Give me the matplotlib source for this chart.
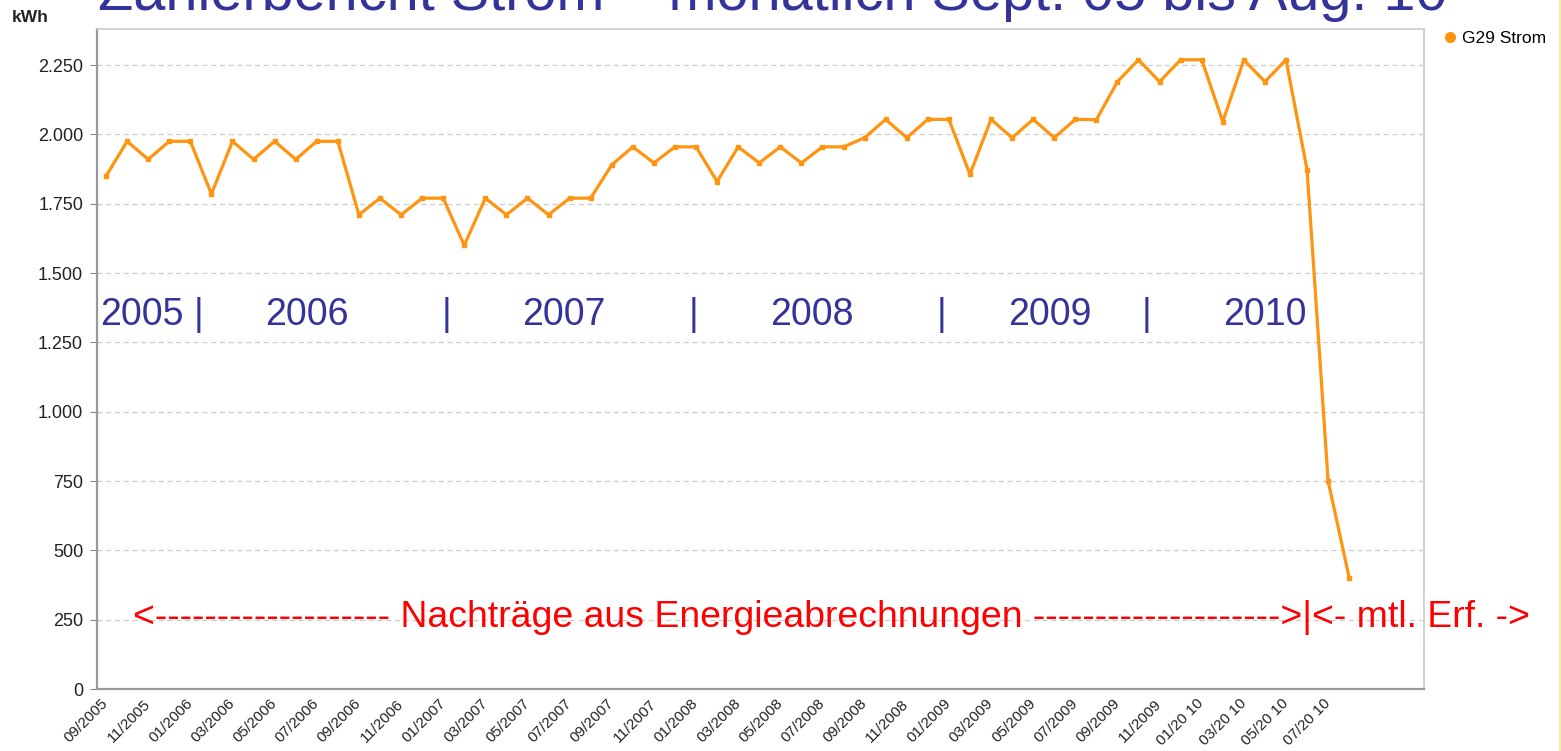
import matplotlib
matplotlib.use("Agg")
import matplotlib.pyplot as plt
from matplotlib.ticker import FuncFormatter, FixedLocator
from matplotlib.lines import Line2D

plt.rcParams['font.family'] = ['Liberation Sans', 'DejaVu Sans']

# ---- data ----
months = ["09/2005", "10/2005", "11/2005", "12/2005",
          "01/2006", "02/2006", "03/2006", "04/2006", "05/2006", "06/2006",
          "07/2006", "08/2006", "09/2006", "10/2006", "11/2006", "12/2006",
          "01/2007", "02/2007", "03/2007", "04/2007", "05/2007", "06/2007",
          "07/2007", "08/2007", "09/2007", "10/2007", "11/2007", "12/2007",
          "01/2008", "02/2008", "03/2008", "04/2008", "05/2008", "06/2008",
          "07/2008", "08/2008", "09/2008", "10/2008", "11/2008", "12/2008",
          "01/2009", "02/2009", "03/2009", "04/2009", "05/2009", "06/2009",
          "07/2009", "08/2009", "09/2009", "10/2009", "11/2009", "12/2009",
          "01/2010", "02/2010", "03/2010", "04/2010", "05/2010", "06/2010",
          "07/2010", "08/2010"]
strom_kwh = [1850, 1975, 1910, 1975,
             1975, 1785, 1975, 1910, 1975, 1910,
             1975, 1975, 1710, 1770, 1710, 1770,
             1770, 1600, 1770, 1710, 1770, 1710,
             1770, 1770, 1890, 1955, 1897, 1955,
             1955, 1830, 1955, 1897, 1955, 1897,
             1955, 1955, 1988, 2054, 1988, 2054,
             2054, 1856, 2054, 1988, 2054, 1988,
             2054, 2053, 2190, 2269, 2190, 2269,
             2269, 2046, 2269, 2190, 2269, 1873,
             750, 401]
series_name = "G29 Strom"
y_ticks = [0, 250, 500, 750, 1000, 1250, 1500, 1750, 2000, 2250]
x_tick_labels = ["09/2005", "11/2005", "01/2006", "03/2006", "05/2006", "07/2006",
                 "09/2006", "11/2006", "01/2007", "03/2007", "05/2007", "07/2007",
                 "09/2007", "11/2007", "01/2008", "03/2008", "05/2008", "07/2008",
                 "09/2008", "11/2008", "01/2009", "03/2009", "05/2009", "07/2009",
                 "09/2009", "11/2009", "01/20 10", "03/20 10", "05/20 10", "07/20 10"]
title_text = "Zählerbericht Strom – monatlich Sept. 05 bis Aug. 10"
year_labels = ["2005", "|", "2006", "|", "2007", "|", "2008", "|", "2009", "|", "2010"]
year_label_px = [100, 194, 265, 442, 522, 689, 770, 937, 1008, 1142, 1223]
note_text = "<------------------- Nachträge aus Energieabrechnungen -------------------->|<- mtl. Erf. ->"

W, H = 1561, 751
fig = plt.figure(figsize=(W / 100, H / 100), dpi=100)
ax = fig.add_axes([97 / W, 1 - 689 / H, (1424 - 97) / W, (689 - 29) / H])

x = list(range(len(strom_kwh)))
orange = "#ff9410"
ax.plot(x, strom_kwh, color=orange, lw=2.3, marker="s", ms=3.2,
        markerfacecolor=orange, markeredgecolor=orange, zorder=3,
        label=series_name)

ax.set_xlim(-0.43, 62.55)
ax.set_ylim(0, 2380)

ax.yaxis.set_major_locator(FixedLocator(y_ticks))
ax.yaxis.set_major_formatter(FuncFormatter(lambda v, p: f"{int(v):,}".replace(",", ".")))
ax.grid(axis="y", color="#cccccc", linestyle=(0, (4, 3)), lw=0.9)
ax.set_axisbelow(True)

tick_pos = [months.index(l.replace(" ", "")) for l in x_tick_labels]
ax.set_xticks(tick_pos)
ax.set_xticklabels(x_tick_labels, rotation=45, ha="right", va="center",
                   rotation_mode="anchor", fontsize=11, color="#222222")
ax.tick_params(axis="x", length=0, pad=9)
ax.tick_params(axis="y", length=5, color="#888888", labelsize=13,
               labelcolor="#222222", pad=5)

for s in ["left", "bottom"]:
    ax.spines[s].set_color("#999999")
    ax.spines[s].set_linewidth(1.6)
for s in ["top", "right"]:
    ax.spines[s].set_color("#cccccc")
    ax.spines[s].set_linewidth(1.2)

# axis unit label
fig.text(12 / W, 1 - 22 / H, "kWh", fontsize=12.5, fontweight="bold",
         color="#222222", va="baseline")

# legend
ax.legend(handles=[Line2D([], [], color=orange, marker="o", ls="", ms=7)],
          labels=[series_name], loc="upper left", bbox_to_anchor=(1.014, 1.0),
          frameon=False, fontsize=12.5, handlelength=0.6, handletextpad=0.4,
          borderaxespad=0.0, borderpad=0.1)

# title (clipped at top like the reference)
fig.text(98 / W, 1 - 10 / H, title_text, fontsize=41.5, color="#333399",
         va="baseline", ha="left")

# year labels
for lbl, px in zip(year_labels, year_label_px):
    fig.text(px / W, 1 - 325 / H, lbl, fontsize=27, color="#333399",
             va="baseline", ha="left")

# note
fig.text(133 / W, 1 - 627 / H, note_text, fontsize=26.9, color="#ff0000",
         va="baseline", ha="left")

# thin yellow edge at right like the reference slide
fig.add_artist(Line2D([1559.5 / W, 1559.5 / W], [0, 1], color="#f4f080", lw=1.2))

fig.savefig("out.png", dpi=100)
